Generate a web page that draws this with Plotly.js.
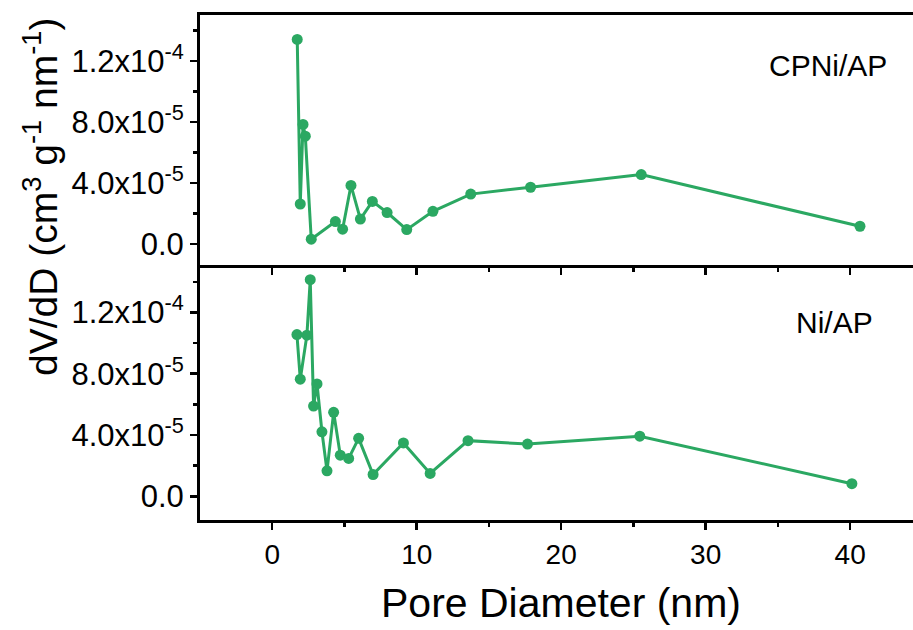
<!DOCTYPE html>
<html>
<head>
<meta charset="utf-8">
<script src="https://cdn.plot.ly/plotly-3.0.1.min.js"></script>
<style>html,body{margin:0;padding:0;background:#fff;overflow:hidden;}#wrap{width:913px;height:630px;overflow:hidden;}#chart{width:926px;height:630px;}</style>
</head>
<body>
<div id="wrap"><div id="chart"></div></div>
<script>
// CPNi/AP (top panel)
const cpniX = [1.73, 1.94, 2.13, 2.29, 2.70, 4.37, 4.87, 5.45, 6.10, 6.93, 7.95, 9.31, 11.12, 13.74, 17.88, 25.54, 40.68];
const cpniY = [1.342e-4, 2.62e-5, 7.84e-5, 7.07e-5, 3.1e-6, 1.47e-5, 9.7e-6, 3.84e-5, 1.63e-5, 2.79e-5, 2.06e-5, 9.4e-6, 2.14e-5, 3.27e-5, 3.72e-5, 4.55e-5, 1.16e-5];
// Ni/AP (bottom panel)
const niX = [1.71, 1.94, 2.40, 2.63, 2.86, 3.10, 3.44, 3.79, 4.25, 4.71, 5.29, 5.98, 6.98, 9.08, 10.93, 13.55, 17.67, 25.44, 40.12];
const niY = [1.056e-4, 7.64e-5, 1.052e-4, 1.414e-4, 5.89e-5, 7.33e-5, 4.21e-5, 1.66e-5, 5.48e-5, 2.68e-5, 2.47e-5, 3.78e-5, 1.42e-5, 3.48e-5, 1.49e-5, 3.63e-5, 3.41e-5, 3.92e-5, 8.2e-6];
// tick labels
const yTickVals = [0, 4e-5, 8e-5, 1.2e-4];
const yTickText = ['0.0', '4.0x10<sup>-5</sup>', '8.0x10<sup>-5</sup>', '1.2x10<sup>-4</sup>'];
const xTickVals = [0, 10, 20, 30, 40];
const xTickText = ['0', '10', '20', '30', '40'];
const panelLabels = ['CPNi/AP', 'Ni/AP'];
const xTitle = 'Pore Diameter (nm)';
const yTitle = 'dV/dD (cm<sup>3</sup> g<sup>-1</sup> nm<sup>-1</sup>)';

const green = '#2ba862';
const fontFam = '"Liberation Sans", Arial, sans-serif';

const traces = [
  {x: cpniX, y: cpniY, xaxis: 'x2', yaxis: 'y2', mode: 'lines+markers', name: 'CPNi/AP',
   line: {color: green, width: 3}, marker: {color: green, size: 11}},
  {x: niX, y: niY, xaxis: 'x', yaxis: 'y', mode: 'lines+markers', name: 'Ni/AP',
   line: {color: green, width: 3}, marker: {color: green, size: 11}}
];

const axisCommon = {
  showline: true, linecolor: '#000', linewidth: 3, showgrid: false, zeroline: false,
  ticks: 'outside', tickcolor: '#000', tickwidth: 2.5, ticklen: 7
};
const xCommon = Object.assign({}, axisCommon, {
  range: [-5, 45.25], tickvals: xTickVals, ticktext: xTickText,
  minor: {tickvals: [5, 15, 25, 35], ticks: 'outside', ticklen: 4, tickcolor: '#000', tickwidth: 2.5},
  tickfont: {family: fontFam, size: 28, color: '#000'}
});
const yCommon = Object.assign({}, axisCommon, {
  tickvals: yTickVals, ticktext: yTickText,
  minor: {tickvals: [2e-5, 6e-5, 1e-4, 1.4e-4], ticks: 'outside', ticklen: 4, tickcolor: '#000', tickwidth: 2.5},
  tickfont: {family: fontFam, size: 31, color: '#000'}
});

const W = 926;
const PW = W - 200;
const layout = {
  width: W, height: 630,
  margin: {l: 200, r: 0, t: 15, b: 110},
  paper_bgcolor: '#fff', plot_bgcolor: '#fff',
  showlegend: false,
  font: {family: fontFam, color: '#000'},
  xaxis: Object.assign({}, xCommon, {anchor: 'y', domain: [0, 1], mirror: false}),
  xaxis2: Object.assign({}, xCommon, {anchor: 'y2', domain: [0, 1], matches: 'x', showticklabels: false, mirror: true}),
  yaxis: Object.assign({}, yCommon, {anchor: 'x', domain: [0, 0.505], range: [-1.55e-5, 1.51e-4]}),
  yaxis2: Object.assign({}, yCommon, {anchor: 'x2', domain: [0.505, 1], range: [-1.38e-5, 1.502e-4]}),
  annotations: [
    {text: panelLabels[0], xref: 'paper', yref: 'paper', x: (828 - 200) / PW, y: (520 - 66) / 505,
     xanchor: 'center', yanchor: 'middle', showarrow: false, font: {family: fontFam, size: 30, color: '#000'}},
    {text: panelLabels[1], xref: 'paper', yref: 'paper', x: (834 - 200) / PW, y: (520 - 322) / 505,
     xanchor: 'center', yanchor: 'middle', showarrow: false, font: {family: fontFam, size: 30, color: '#000'}},
    {text: xTitle, xref: 'paper', yref: 'paper', x: (561 - 200) / PW, y: (520 - 603) / 505,
     xanchor: 'center', yanchor: 'middle', showarrow: false, font: {family: fontFam, size: 41, color: '#000'}},
    {text: yTitle, xref: 'paper', yref: 'paper', x: (40 - 200) / PW, y: (520 - 197) / 505, textangle: -90,
     xanchor: 'center', yanchor: 'middle', showarrow: false, font: {family: fontFam, size: 39, color: '#000'}}
  ]
};

Plotly.newPlot('chart', traces, layout, {displayModeBar: false, staticPlot: true});
</script>
</body>
</html>
